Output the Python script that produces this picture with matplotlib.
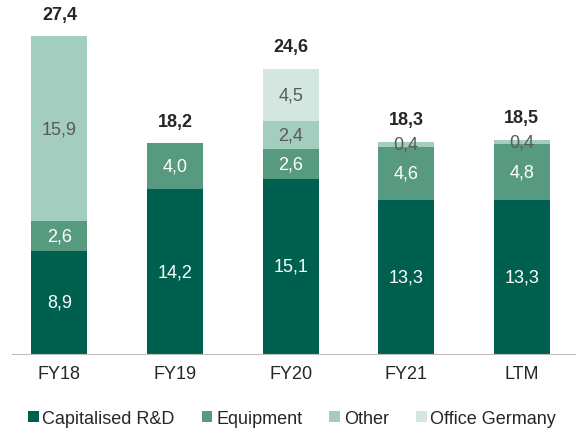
import numpy as np
import matplotlib
matplotlib.use('Agg')
import matplotlib.pyplot as plt

categories = ['FY18', 'FY19', 'FY20', 'FY21', 'LTM']
rnd = [8.9, 14.2, 15.1, 13.3, 13.3]
equipment = [2.6, 4.0, 2.6, 4.6, 4.8]
other = [15.9, 0.0, 2.4, 0.4, 0.4]
office = [0.0, 0.0, 4.5, 0.0, 0.0]
totals = [27.4, 18.2, 24.6, 18.3, 18.5]

series = [
    ('Capitalised R&D', rnd, '#00604F', 'white'),
    ('Equipment', equipment, '#579A80', 'white'),
    ('Other', other, '#A3CDBE', '#595959'),
    ('Office Germany', office, '#D3E7E0', '#595959'),
]

plt.rcParams['font.family'] = ['Liberation Sans', 'DejaVu Sans']

fig = plt.figure(figsize=(5.78, 4.31), dpi=100)
ax = fig.add_axes([12 / 578, 76 / 431, 563 / 578, 350 / 431])

x = np.arange(len(categories))
bottom = np.zeros(len(categories))
for name, vals, color, tcolor in series:
    vals = np.array(vals)
    ax.bar(x, vals, 0.485, bottom=bottom, color=color, label=name)
    for i, v in enumerate(vals):
        if v > 0:
            ax.text(x[i], bottom[i] + v / 2, '{:.1f}'.format(v).replace('.', ','),
                    ha='center', va='center', color=tcolor, fontsize=13)
    bottom += vals

for i, t in enumerate(totals):
    ax.text(x[i], t + 1.9, '{:.1f}'.format(t).replace('.', ','), ha='center', va='center',
            fontsize=13, fontweight='bold', color='#262626')

ax.set_xlim(-0.41, 4.46)
ax.set_ylim(0, 30.2)
ax.set_yticks([])
ax.set_xticks(x)
ax.set_xticklabels(categories, fontsize=13, color='#262626')
ax.tick_params(axis='x', length=0, pad=8)
for s in ['top', 'right', 'left']:
    ax.spines[s].set_visible(False)
ax.spines['bottom'].set_color('#BFBFBF')

fig.legend(loc='lower center', bbox_to_anchor=(0.505, -0.03), ncol=4, frameon=False,
           fontsize=13, handlelength=0.6, handleheight=0.6, handletextpad=0.2,
           columnspacing=1.5, labelcolor='#262626')

fig.savefig('out.png', dpi=100)
